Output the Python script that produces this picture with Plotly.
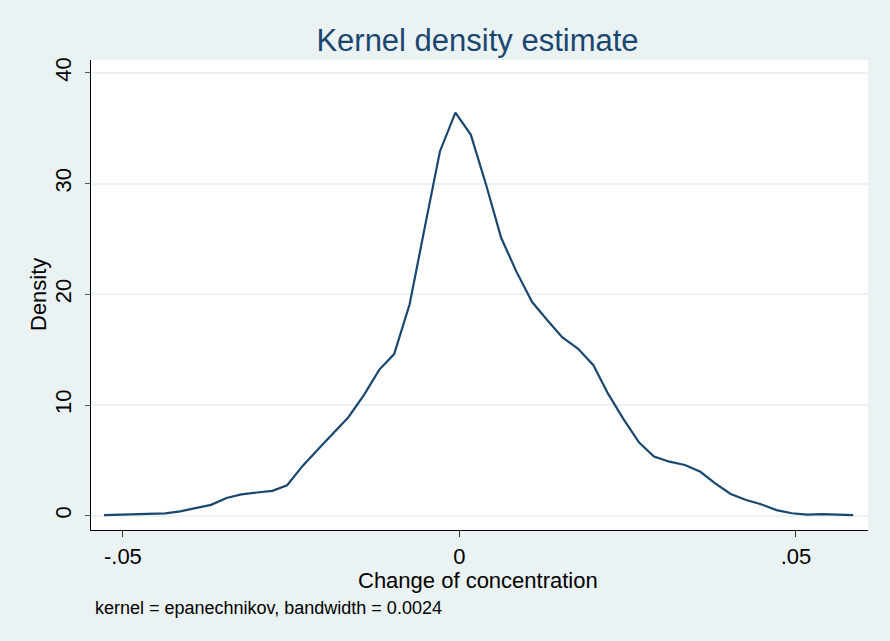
import plotly.graph_objects as go

# Evaluation grid (50 points, as kdensity) and estimated density
x_grid = [-0.0528, -0.0505, -0.0483, -0.0460, -0.0437, -0.0415, -0.0392, -0.0369, -0.0346, -0.0324,
          -0.0301, -0.0278, -0.0256, -0.0233, -0.0210, -0.0187, -0.0165, -0.0142, -0.0119, -0.0097,
          -0.0074, -0.0051, -0.0029, -0.0006, 0.0017, 0.0040, 0.0062, 0.0085, 0.0108, 0.0130,
          0.0153, 0.0176, 0.0199, 0.0221, 0.0244, 0.0267, 0.0289, 0.0312, 0.0335, 0.0358,
          0.0380, 0.0403, 0.0426, 0.0448, 0.0471, 0.0494, 0.0517, 0.0539, 0.0562, 0.0585]
density = [0.05, 0.10, 0.14, 0.15, 0.22, 0.40, 0.67, 0.98, 1.60, 1.93,
           2.10, 2.25, 2.75, 4.50, 6.00, 7.50, 8.90, 10.9, 13.2, 14.6,
           19.1, 26.2, 32.9, 36.4, 34.4, 29.8, 25.1, 22.0, 19.3, 17.7,
           16.1, 15.1, 13.6, 11.0, 8.70, 6.60, 5.35, 4.88, 4.58, 3.97,
           2.92, 1.96, 1.42, 1.03, 0.51, 0.22, 0.09, 0.15, 0.09, 0.06]

x_ticks = [-0.05, 0, 0.05]
x_tick_labels = ["-.05", "0", ".05"]
y_ticks = [0, 10, 20, 30, 40]
y_tick_labels = ["0", "10", "20", "30", "40"]

title_text = "Kernel density estimate"
x_title = "Change of concentration"
y_title = "Density"
note_text = "kernel = epanechnikov, bandwidth = 0.0024"

BG = "#EAF2F3"
NAVY = "#1a476f"
FONT = "Liberation Sans, Arial, sans-serif"

W, H = 890, 641
L, R, T, B = 91, 22, 60, 111
PW, PH = W - L - R, H - T - B

fig = go.Figure()
fig.add_trace(go.Scatter(x=x_grid, y=density, mode="lines",
                         line=dict(color=NAVY, width=2.2), hoverinfo="skip",
                         showlegend=False))

fig.update_layout(
    width=W, height=H,
    margin=dict(l=L, r=R, t=T, b=B, pad=0, autoexpand=False),
    paper_bgcolor=BG, plot_bgcolor="white",
    font=dict(family=FONT, color="black"),
    title=dict(text=title_text, x=(L + PW / 2 - 2) / W, xanchor="center",
               y=1 - 40 / H, yanchor="middle", yref="container",
               font=dict(size=31, color=NAVY, family=FONT)),
    xaxis=dict(range=[-0.05474, 0.06070], tickvals=x_ticks, ticktext=x_tick_labels,
               showgrid=False, zeroline=False, showline=True, linecolor="black",
               linewidth=1.2, ticks="outside", ticklen=6, tickcolor="#333333",
               tickwidth=1.2, tickfont=dict(size=22, color="black"),
               ticklabelstandoff=0, automargin=False, fixedrange=True),
    yaxis=dict(range=[-1.29, 41.16], tickvals=y_ticks, ticktext=y_tick_labels,
               showgrid=True, gridcolor=BG, gridwidth=2, zeroline=False,
               showline=True, linecolor="black", linewidth=1.2,
               ticks="outside", ticklen=5, tickcolor="#555555", tickwidth=1.2,
               tickangle=-90, tickfont=dict(size=22, color="black"),
               ticklabelstandoff=5, automargin=False, fixedrange=True),
    annotations=[
        dict(text=x_title, xref="paper", yref="paper",
             x=(478 - L) / PW, y=-(580 - (H - B)) / PH, xanchor="center", yanchor="middle",
             showarrow=False, font=dict(size=22, color="black")),
        dict(text=y_title, xref="paper", yref="paper", textangle=-90,
             x=-(L - 38) / PW, y=0.5, xanchor="center", yanchor="middle",
             showarrow=False, font=dict(size=22, color="black")),
        dict(text=note_text, xref="paper", yref="paper",
             x=(93 - L) / PW, y=-(608 - (H - B)) / PH,
             xanchor="left", yanchor="middle",
             showarrow=False, font=dict(size=18, color="black")),
    ],
)

fig.write_html("out.html", config={"displayModeBar": False},
               post_script="document.body.style.margin='0';document.body.style.overflow='hidden';")
